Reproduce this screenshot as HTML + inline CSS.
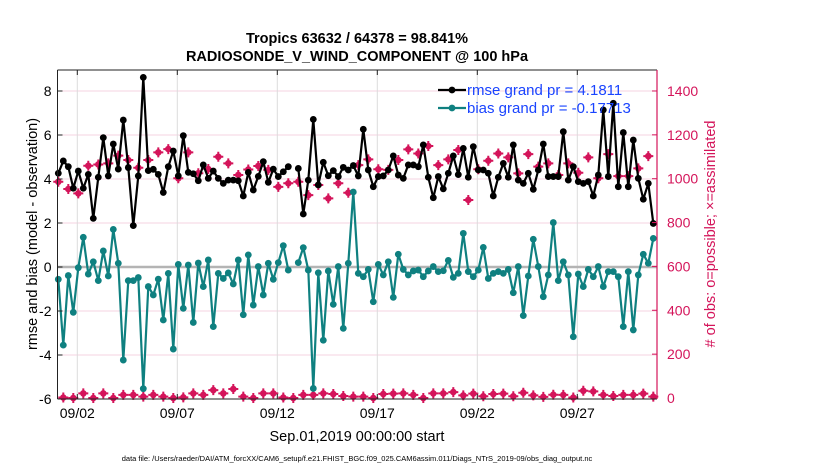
<!DOCTYPE html>
<html><head><meta charset="utf-8"><style>
body{margin:0;background:#fff;}
svg text{font-family:"Liberation Sans",sans-serif;}
</style></head><body>
<svg id="chart" width="830" height="470" viewBox="0 0 830 470" xmlns="http://www.w3.org/2000/svg">
<rect width="830" height="470" fill="#fff"/>
<text x="357" y="43" text-anchor="middle" font-size="14.5" font-weight="bold">Tropics 63632 / 64378 = 98.841%</text>
<text x="357" y="61" text-anchor="middle" font-size="14.5" font-weight="bold">RADIOSONDE_V_WIND_COMPONENT @ 100 hPa</text>
<g id="grid"></g>
<g id="marks"></g>
<g id="axes"></g>
<text transform="translate(37,234) rotate(-90)" text-anchor="middle" font-size="14.5">rmse and bias (model - observation)</text>
<text transform="translate(715,234) rotate(-90)" text-anchor="middle" font-size="14.5" fill="#d4145a"># of obs: o=possible; ×=assimilated</text>
<text x="357" y="441" text-anchor="middle" font-size="14.5">Sep.01,2019 00:00:00 start</text>
<text x="357" y="461" text-anchor="middle" font-size="7.5">data file: /Users/raeder/DAI/ATM_forcXX/CAM6_setup/f.e21.FHIST_BGC.f09_025.CAM6assim.011/Diags_NTrS_2019-09/obs_diag_output.nc</text>
<g id="legend"></g>
</svg>
<script>
const rmse=[4.26,4.82,4.56,3.58,4.36,3.58,4.21,2.21,4.08,5.88,4.14,5.59,4.45,6.68,4.52,1.88,4.14,8.62,4.38,4.44,4.21,3.39,4.56,5.27,4.14,5.97,4.3,4.24,3.92,4.64,4.03,4.36,4.03,3.8,3.95,3.95,3.92,3.23,4.3,3.5,4.12,4.79,3.85,4.45,4.11,4.33,4.56,null,4.48,2.41,3.95,6.71,3.73,4.76,4.15,4.38,4.11,4.53,4.41,4.61,4.14,6.26,4.41,3.65,4.11,4.14,4.41,5.05,4.18,4.03,4.64,4.64,4.56,5.55,4.08,3.15,4.11,3.55,4.26,5.05,4.2,5.39,4.08,5.47,4.41,4.41,4.26,3.23,4.08,4.71,4.08,5.55,3.95,3.8,4.26,3.53,4.41,5.59,4.11,4.11,4.11,6.15,3.95,4.56,3.88,3.8,3.88,3.23,4.18,7.14,4.11,7.44,3.65,6.11,3.65,5.77,4.03,3.08,3.8,1.98];
const bias=[-0.56,-3.55,-0.39,-2.06,-0.03,1.35,-0.32,0.24,-0.62,0.73,-0.41,1.71,0.17,-4.23,-0.62,-0.62,-0.48,-5.53,-0.89,-1.27,-0.55,-2.41,-0.29,-3.73,0.12,-1.88,0.09,-2.52,0.18,-0.89,0.32,-2.71,-0.29,-0.52,-0.27,-0.77,0.32,-2.17,0.55,-1.73,0.02,-1.27,0.17,-0.56,0.2,0.97,-0.14,null,0.2,0.88,-0.14,-5.52,-0.26,-3.33,-0.18,-1.7,0.02,-2.79,0.17,3.41,-0.29,-0.44,-0.11,-1.58,0.12,-0.36,0.24,-1.38,0.58,-0.11,-0.36,-0.18,-0.14,-0.44,-0.18,0.02,-0.21,-0.17,0.3,-0.47,-0.29,1.53,-0.21,-0.44,-0.14,0.89,-0.52,-0.29,-0.21,-0.29,-0.11,-1.17,0.02,-2.21,-0.41,1.26,0.02,-1.35,-0.36,2.02,-0.62,0.24,-0.36,-3.17,-0.32,-0.89,-0.11,-0.44,0.02,-0.89,-0.21,-0.21,-0.44,-2.71,-0.21,-2.86,-0.36,0.58,0.17,1.3];
const countsHigh=[986,953,933,1059,1065,1070,1105,1085,1050,1085,1120,1135,1002,1120,1025,1044,1100,1070,1017,1042,1058,1040,963,979,986,925,971,910,979,936,1062,1088,1043,1040,1085,1134,1115,1149,1062,1088,1131,903,1043,1082,1115,1097,1024,1112,1055,1070,1017,1070,1027,1097,1002,1112,1012,1012,1047,1103];
const countsLow=[2,0,21,0,21,0,14,14,6,14,6,0,3,21,14,36,21,41,6,0,21,21,2,0,14,14,21,18,9,6,6,0,18,20,21,14,0,21,21,27,12,20,8,18,20,8,24,12,5,15,14,2,33,30,14,9,14,14,20,6];
const xTickLabels=["09/02","09/07","09/12","09/17","09/22","09/27"];
const xTickDays=[1,6,11,16,21,26];
const leftTicks=[8,6,4,2,0,-2,-4,-6];
const rightTicks=[0,200,400,600,800,1000,1200,1400];
const legendLabels=["rmse grand pr = 4.1811","bias grand pr = -0.17713"];

const NS="http://www.w3.org/2000/svg";
const X0=57.5, X1=657, YT=70, YB=399;
const xDay=d=>58.3+20*d;
const xIdx=i=>xDay(i*0.25);
const yL=v=>267-22*v;
const yR=c=>398-c*0.2193;
const RED="#d4145a", TEAL="#0f8080";
function mk(tag,attrs,parent){const e=document.createElementNS(NS,tag);for(const k in attrs)e.setAttribute(k,attrs[k]);parent.appendChild(e);return e;}
const grid=document.getElementById('grid'),marks=document.getElementById('marks'),axes=document.getElementById('axes'),legend=document.getElementById('legend');

leftTicks.forEach(v=>{
  if(v>-6&&v<9){const g=mk('line',{x1:X0,x2:X1,y1:yL(v),y2:yL(v),stroke:'#f6d3e0','stroke-width':1},grid);
  
  }
  const t=mk('text',{x:X0-6,y:yL(v)+5,'text-anchor':'end','font-size':14},axes);t.textContent=v;
  
  
  mk('line',{x1:X0,x2:X0+5,y1:yL(v),y2:yL(v),stroke:'#222'},axes);
});
rightTicks.forEach(c=>{
  const t=mk('text',{x:X1+10,y:yR(c)+5,'font-size':14,fill:RED},axes);t.textContent=c;
  
  
  mk('line',{x1:X1-5,x2:X1,y1:yR(c),y2:yR(c),stroke:RED},axes);
});
xTickDays.forEach((d,k)=>{
  const g=mk('line',{x1:xDay(d)-1,x2:xDay(d)-1,y1:YT,y2:YB,stroke:'#dcdcdc'},grid);
  
  
  mk('line',{x1:xDay(d)-1,x2:xDay(d)-1,y1:YB,y2:YB-5,stroke:'#222'},axes);
  mk('line',{x1:xDay(d)-1,x2:xDay(d)-1,y1:YT,y2:YT+5,stroke:'#222'},axes);
  const t=mk('text',{x:xDay(d)-1,y:418,'text-anchor':'middle','font-size':14},axes);t.textContent=xTickLabels[k];
  
  
});
const zl=mk('line',{x1:X0,x2:X1,y1:yL(0),y2:yL(0),stroke:'#b4b4b4','stroke-width':2.5},grid);



function drawCount(i,c){
  const x=xIdx(i),y=yR(c);
  const g=mk('g',{},marks);
  
  
  mk('circle',{cx:x,cy:y,r:3.3,fill:RED},g);
  mk('path',{d:`M${x-5} ${y}H${x+5}M${x} ${y-5}V${y+5}`,stroke:RED,'stroke-width':2},g);
}
countsHigh.forEach((c,k)=>drawCount(2*k,c));
countsLow.forEach((c,k)=>drawCount(2*k+1,c));

function series(vals,color,name){
  let d='',pen=false;
  vals.forEach((v,i)=>{if(v==null){pen=false;return;}d+=(pen?'L':'M')+xIdx(i).toFixed(1)+' '+yL(v).toFixed(1);pen=true;});
  const p=mk('path',{d:d,fill:'none',stroke:color,'stroke-width':2.2,'stroke-linejoin':'round'},marks);
  
  
  vals.forEach((v,i)=>{if(v==null)return;
    const c=mk('circle',{cx:xIdx(i),cy:yL(v),r:3.4,fill:color},marks);
    
    });
}
series(bias,TEAL,'bias');
series(rmse,'#000','rmse');

mk('path',{d:`M${X0} ${YT}H${X1}M${X0} ${YB}H${X1}M${X0} ${YT}V${YB}`,stroke:'#222','stroke-width':1,fill:'none'},axes);
mk('line',{x1:X1,x2:X1,y1:YT,y2:YB,stroke:RED,'stroke-width':1.2},axes);

[['#000',90],[TEAL,108]].forEach((a,k)=>{
  const g=mk('g',{},legend);
  
  
  mk('line',{x1:438,x2:466,y1:a[1],y2:a[1],stroke:a[0],'stroke-width':2.2},g);
  mk('circle',{cx:452,cy:a[1],r:3.4,fill:a[0]},g);
  const t=mk('text',{x:467,y:a[1]+5,'font-size':15,fill:'#1a44ff'},g);t.textContent=legendLabels[k];
});
</script>
</body></html>
